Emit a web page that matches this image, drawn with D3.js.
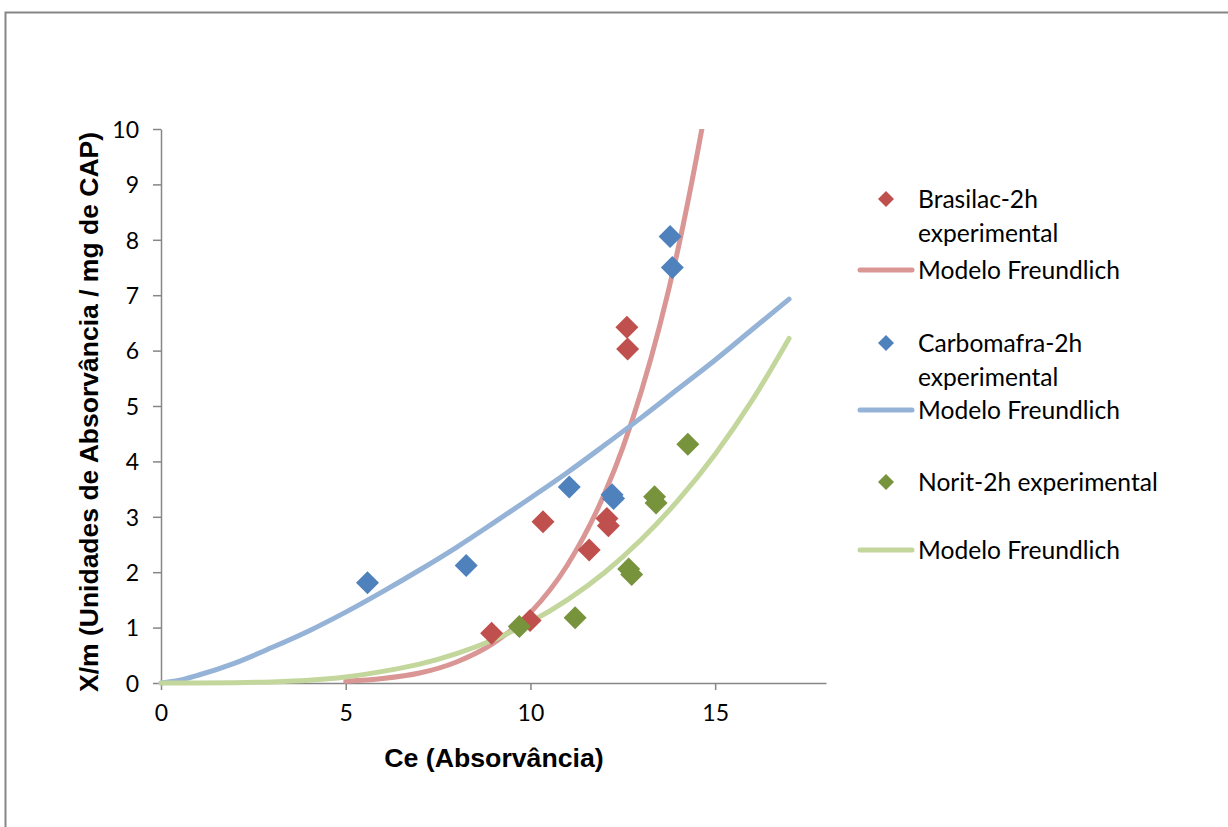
<!DOCTYPE html>
<html>
<head>
<meta charset="utf-8">
<script src="https://cdn.jsdelivr.net/npm/d3@7"></script>
<style>
  html, body { margin: 0; padding: 0; background: #fff; }
  svg { display: block; }
</style>
</head>
<body>
<svg id="chart" width="1228" height="827"></svg>
<script>
// Experimental adsorption points: equilibrium absorbance (Ce) vs X/m
const brasilacCe = [8.95, 9.99, 10.34, 12.07, 12.11, 11.59, 12.61, 12.63];
const brasilacQ  = [0.90, 1.13, 2.91, 2.97, 2.84, 2.40, 6.42, 6.03];

const carbomafraCe = [5.59, 8.26, 11.05, 12.21, 12.25, 13.78, 13.84];
const carbomafraQ  = [1.81, 2.12, 3.54, 3.40, 3.33, 8.06, 7.50];

const noritCe = [9.70, 11.21, 12.66, 12.74, 13.36, 13.40, 14.26];
const noritQ  = [1.02, 1.18, 2.06, 1.96, 3.36, 3.25, 4.31];

// Freundlich model curves, sampled along Ce
const brasilacModelCe = [5, 6, 7, 8, 9, 10, 11, 12, 12.5, 13, 13.5, 14, 14.5, 14.64];
const brasilacModelQ  = [0.03, 0.08, 0.18, 0.38, 0.72, 1.27, 2.13, 3.41, 4.25, 5.26, 6.45, 7.85, 9.50, 10.0];

const carbomafraModelCe = [0, 0.5, 1, 2, 3, 4, 5, 6, 7, 8, 9, 10, 11, 12, 13, 14, 15, 16, 17];
const carbomafraModelQ  = [0, 0.05, 0.14, 0.36, 0.64, 0.94, 1.28, 1.65, 2.04, 2.45, 2.89, 3.34, 3.80, 4.29, 4.79, 5.31, 5.83, 6.38, 6.93];

const noritModelCe = [0, 1, 2, 3, 4, 5, 6, 7, 8, 9, 10, 11, 12, 13, 14, 15, 16, 17];
const noritModelQ  = [0, 0.001, 0.006, 0.02, 0.05, 0.11, 0.21, 0.34, 0.53, 0.78, 1.10, 1.50, 1.99, 2.59, 3.30, 4.13, 5.10, 6.22];

const xTicks = [0, 5, 10, 15];
const yTicks = [0, 1, 2, 3, 4, 5, 6, 7, 8, 9, 10];

const legendLabels = [
  ["Brasilac-2h", "experimental"],
  ["Modelo Freundlich"],
  ["Carbomafra-2h", "experimental"],
  ["Modelo Freundlich"],
  ["Norit-2h experimental"],
  ["Modelo Freundlich"]
];

const colors = {
  brasilac: "#C0504D", brasilacLine: "#D99694",
  carbomafra: "#4F81BD", carbomafraLine: "#95B3D7",
  norit: "#77933C", noritLine: "#C3D69B"
};

const svg = d3.select("#chart");
const tickFont = "Lato, 'Open Sans', sans-serif";
const titleFont = "'Liberation Sans', Arial, sans-serif";

// chart frame
svg.append("rect")
  .attr("x", 5.5).attr("y", 12.5)
  .attr("width", 1300).attr("height", 900)
  .attr("fill", "#fff").attr("stroke", "#868686").attr("stroke-width", 2);

const x = d3.scaleLinear().domain([0, 18]).range([161, 826]);
const y = d3.scaleLinear().domain([0, 10]).range([683, 129]);

svg.append("defs").append("clipPath").attr("id", "plotClip")
  .append("rect").attr("x", 155).attr("y", 129).attr("width", 680).attr("height", 560);

// axes
const xAxis = svg.append("g").attr("transform", "translate(0,683)")
  .call(d3.axisBottom(x).tickValues(xTicks).tickSize(7).tickSizeOuter(0).tickPadding(15));
const yAxis = svg.append("g").attr("transform", "translate(161,0)")
  .call(d3.axisLeft(y).tickValues(yTicks).tickSize(8).tickSizeOuter(0).tickPadding(14));

[xAxis, yAxis].forEach(g => {
  g.select(".domain").attr("stroke", "#868686").attr("stroke-width", 1.5);
  g.selectAll(".tick line").attr("stroke", "#868686").attr("stroke-width", 1.5);
  g.selectAll(".tick text").attr("fill", "#000")
    .style("font-family", tickFont).style("font-size", "23px");
});
yAxis.selectAll(".tick text").attr("dy", "0.36em");
xAxis.selectAll(".tick text").attr("dy", "0.71em");

// axis titles
svg.append("text")
  .attr("x", 494).attr("y", 767)
  .attr("text-anchor", "middle")
  .style("font-family", titleFont).style("font-weight", "bold").style("font-size", "26.7px")
  .text("Ce (Absorvância)");

svg.append("text")
  .attr("transform", "translate(98,412) rotate(-90)")
  .attr("text-anchor", "middle")
  .style("font-family", titleFont).style("font-weight", "bold").style("font-size", "26.5px")
  .text("X/m (Unidades de Absorvância / mg de CAP)");

// model curves and experimental points
const line = d3.line().x(d => x(d[0])).y(d => y(d[1])).curve(d3.curveMonotoneX);
const plot = svg.append("g").attr("clip-path", "url(#plotClip)");

function diamond(r) {
  return `M0,${-r}L${r},0L0,${r}L${-r},0Z`;
}

function drawModel(ces, qs, color) {
  plot.append("path").datum(ces.map((c, i) => [c, qs[i]]))
    .attr("d", line).attr("fill", "none").attr("stroke", color)
    .attr("stroke-width", 5).attr("stroke-linecap", "round");
}

function drawPoints(ces, qs, color) {
  plot.append("g").selectAll("path")
    .data(ces.map((c, i) => [c, qs[i]]))
    .join("path")
    .attr("d", diamond(11.5))
    .attr("transform", d => `translate(${x(d[0])},${y(d[1])})`)
    .attr("fill", color);
}

drawModel(brasilacModelCe, brasilacModelQ, colors.brasilacLine);
drawModel(carbomafraModelCe, carbomafraModelQ, colors.carbomafraLine);
drawModel(noritModelCe, noritModelQ, colors.noritLine);

drawPoints(brasilacCe, brasilacQ, colors.brasilac);
drawPoints(carbomafraCe, carbomafraQ, colors.carbomafra);
drawPoints(noritCe, noritQ, colors.norit);

// legend
const legendY = [199, 270, 343, 410, 482, 550];
const legendKinds = ["point", "line", "point", "line", "point", "line"];
const legendColors = [colors.brasilac, colors.brasilacLine, colors.carbomafra,
                      colors.carbomafraLine, colors.norit, colors.noritLine];
const legend = svg.append("g");
legendLabels.forEach((lines, i) => {
  const cy = legendY[i];
  if (legendKinds[i] === "point") {
    legend.append("path").attr("d", diamond(8))
      .attr("transform", `translate(886,${cy})`).attr("fill", legendColors[i]);
  } else {
    legend.append("line").attr("x1", 860).attr("x2", 912)
      .attr("y1", cy).attr("y2", cy)
      .attr("stroke", legendColors[i]).attr("stroke-width", 5).attr("stroke-linecap", "round");
  }
  lines.forEach((t, j) => {
    legend.append("text")
      .attr("x", 918).attr("y", cy + j * 34).attr("dy", "0.36em")
      .style("font-family", tickFont).style("font-size", "24.6px").attr("fill", "#000")
      .text(t);
  });
});
</script>
</body>
</html>
